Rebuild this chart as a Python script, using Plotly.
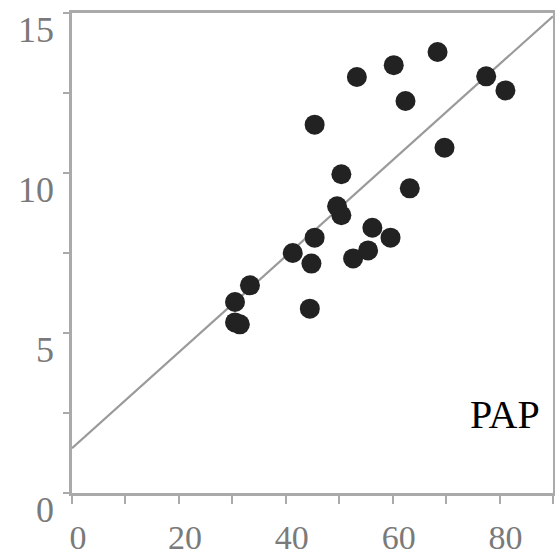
import plotly.graph_objects as go

# Observations
x_vals = [53.3, 60.2, 68.4, 77.5, 81.1, 62.4, 45.4, 69.7, 50.4, 63.2,
          49.6, 50.4, 45.4, 56.2, 59.6, 41.3, 44.8, 55.4, 52.6, 33.3,
          30.5, 30.5, 31.4, 44.5]
y_vals = [13.0, 13.37, 13.78, 13.02, 12.58, 12.25, 11.51, 10.79, 9.96, 9.52,
          8.96, 8.68, 7.98, 8.29, 7.98, 7.5, 7.17, 7.58, 7.33, 6.49,
          5.97, 5.33, 5.27, 5.76]

# Regression line
fit_intercept = 1.4
fit_slope = 0.15
fit_x = [0, 90]
fit_y = [fit_intercept + fit_slope * v for v in fit_x]

x_tickvals = [0, 10, 20, 30, 40, 50, 60, 70, 80, 90]
x_ticktext = ["0", "", "20", "", "40", "", "60", "", "80", ""]
y_tickvals = [0, 2.5, 5, 7.5, 10, 12.5, 15]
y_ticktext = ["0", "", "5", "", "10", "", "15"]

label_text = "PAP"
label_pos = (81.1, 2.46)

fig = go.Figure()
fig.add_trace(go.Scatter(
    x=fit_x, y=fit_y, mode="lines",
    line=dict(color="#9a9a9a", width=2.2),
    hoverinfo="skip", showlegend=False,
))
fig.add_trace(go.Scatter(
    x=x_vals, y=y_vals, mode="markers",
    marker=dict(size=20, color="#222222", line=dict(width=0)),
    showlegend=False,
))

fig.add_annotation(
    x=label_pos[0], y=label_pos[1], text=label_text, showarrow=False,
    font=dict(family="Liberation Serif", size=40, color="#000000"),
)

axis_font = dict(family="Liberation Serif", size=36, color="#7a7a7a")

fig.update_xaxes(
    range=[0, 90], tickvals=x_tickvals, ticktext=x_ticktext,
    showgrid=False, zeroline=False, automargin=False,
    showline=True, mirror=True, linecolor="#aaaaaa", linewidth=2.5,
    ticks="outside", ticklen=8, tickwidth=2, tickcolor="#aaaaaa",
    tickfont=dict(family="Liberation Serif", size=34, color="#7a7a7a"),
    ticklabelstandoff=4, ticklabelshift=6,
)
fig.update_yaxes(
    range=[0, 15], tickvals=y_tickvals, ticktext=y_ticktext,
    showgrid=False, zeroline=False, automargin=False,
    showline=True, mirror=True, linecolor="#aaaaaa", linewidth=2.5,
    ticks="outside", ticklen=6, tickwidth=2, tickcolor="#aaaaaa",
    tickfont=axis_font, ticklabelstandoff=2, ticklabelshift=16,
)

fig.update_layout(
    width=555, height=557,
    margin=dict(l=72, r=2, t=13, b=64),
    paper_bgcolor="white", plot_bgcolor="white",
    showlegend=False,
)

fig.write_html("out.html")
